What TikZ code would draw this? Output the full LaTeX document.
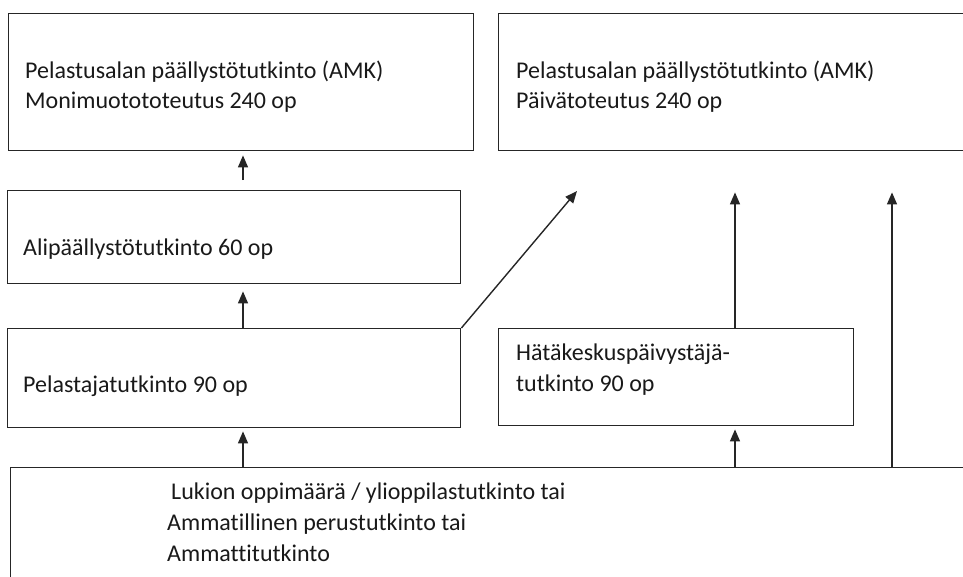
\documentclass[tikz,border=0pt]{standalone}
\usepackage{fontspec}
\setmainfont[Ligatures={NoCommon}]{Carlito}
\usetikzlibrary{arrows.meta,calc}
\begin{document}
\begin{tikzpicture}[x=1pt,y=-1pt,
  box/.style={draw=black!85, line width=1.4pt, rectangle, inner sep=0pt, anchor=north west},
  lbl/.style={anchor=base west, inner sep=0pt, font=\fontsize{24}{30}\selectfont, text=black!90},
  arr/.style={draw=black!85, line width=1.4pt, -{Triangle[length=12pt,width=10pt]}},
  ln/.style={draw=black!85, line width=1.4pt}]
\useasboundingbox (0,0) rectangle (963,576);
\clip (0,0) rectangle (963,576);
% boxes
\node[box, minimum width=465pt, minimum height=137pt] (b1) at (8,13) {};
\node[box, minimum width=480pt, minimum height=137pt] (b2) at (498,13) {};
\node[box, minimum width=453pt, minimum height=93pt] (b3) at (7,190) {};
\node[box, minimum width=453pt, minimum height=99pt] (b4) at (7,328) {};
\node[box, minimum width=355pt, minimum height=97pt] (bh) at (498,328) {};
\node[box, minimum width=1000pt, minimum height=200pt] (b5) at (10,467) {};
% texts
\node[lbl] (t1a) at (25,78) {Pelastusalan päällystötutkinto (AMK)};
\node[lbl] (t1b) at (25,108) {Monimuotototeutus 240 op};
\node[lbl] (t2a) at (516,78) {Pelastusalan päällystötutkinto (AMK)};
\node[lbl] (t2b) at (516,108) {Päivätoteutus 240 op};
\node[lbl] (t3) at (23,255) {Alipäällystötutkinto 60 op};
\node[lbl] (t4) at (23,392) {Pelastajatutkinto 90 op};
\node[lbl] (tha) at (516,360) {Hätäkeskuspäivystäjä-};
\node[lbl] (thb) at (516,391) {tutkinto 90 op};
\node[lbl] (t5a) at (171,499) {Lukion oppimäärä / ylioppilastutkinto tai};
\node[lbl] (t5b) at (167,530) {Ammatillinen perustutkinto tai};
\node[lbl] (t5c) at (167,561) {Ammattitutkinto};
% x positions
\coordinate (xa) at (243,0);
\coordinate (xb) at (735,0);
\coordinate (xc) at (892,0);
\coordinate (tip) at (577,191);
% connectors
\draw[arr, shorten <=10pt, shorten >=4pt] (b3.north -| xa) -- (b1.south -| xa);
\draw[arr, shorten >=7pt] (b4.north -| xa) -- (b3.south -| xa);
\draw[arr, shorten >=3pt] (b5.north -| xa) -- (b4.south -| xa);
\draw[arr, shorten >=3pt] (b5.north -| xb) -- (bh.south -| xb);
\draw[arr, shorten >=41pt] (bh.north -| xb) -- (b2.south -| xb);
\draw[arr, shorten >=41pt] (b5.north -| xc) -- (b2.south -| xc);
\draw[arr] (b4.north east) -- (tip);
\end{tikzpicture}
\end{document}
